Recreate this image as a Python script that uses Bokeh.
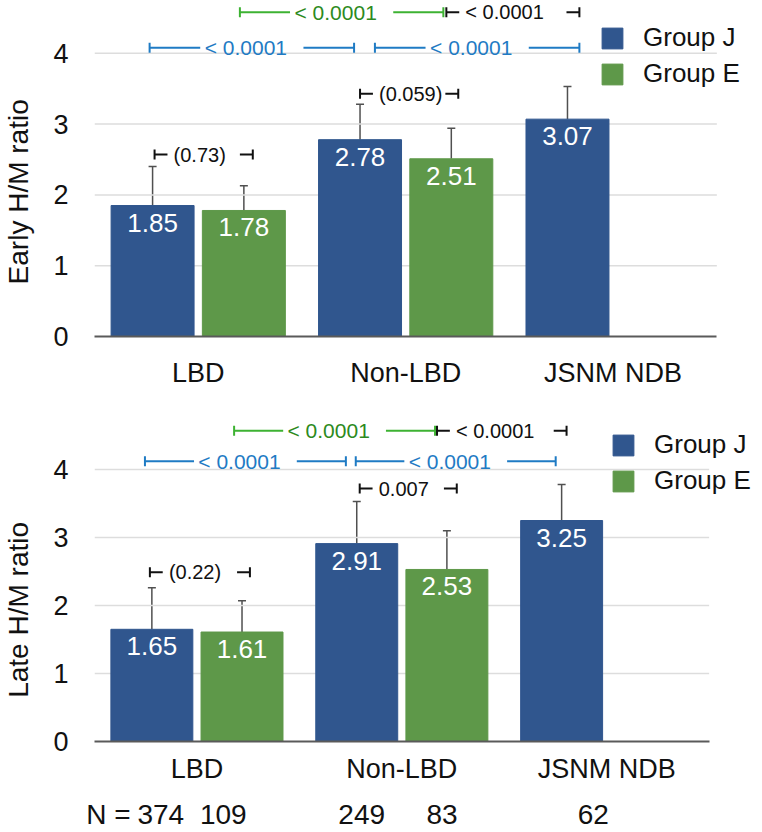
from bokeh.core.properties import value
from bokeh.embed import file_html
from bokeh.layouts import column
from bokeh.models import (ColumnDataSource, FixedTicker, Legend, LegendItem, LinearAxis,
                          Range1d, TeeHead, Whisker)
from bokeh.plotting import figure
from bokeh.resources import INLINE

# ---------------------------------------------------------------- data
categories = ["LBD", "Non-LBD", "JSNM NDB"]
series = ["Group J", "Group E"]
y_ticks = [0, 1, 2, 3, 4]

early_j = [1.85, 2.78, 3.07]
early_j_sd = [0.55, 0.50, 0.46]
early_e = [1.78, 2.51]
early_e_sd = [0.35, 0.43]

late_j = [1.65, 2.91, 3.25]
late_j_sd = [0.61, 0.62, 0.53]
late_e = [1.61, 2.53]
late_e_sd = [0.46, 0.57]

n_j = [374, 249, 62]
n_e = [109, 83]

# pairwise comparisons: (bar a, bar b, p-value text, colour key)
early_tests = [
    (("J", 0), ("J", 1), "< 0.0001", "blue"),
    (("J", 1), ("J", 2), "< 0.0001", "blue"),
    (("E", 0), ("E", 1), "< 0.0001", "green"),
    (("E", 1), ("J", 2), "< 0.0001", "black"),
    (("J", 0), ("E", 0), "(0.73)", "black"),
    (("J", 1), ("E", 1), "(0.059)", "black"),
]
late_tests = [
    (("J", 0), ("J", 1), "< 0.0001", "blue"),
    (("J", 1), ("J", 2), "< 0.0001", "blue"),
    (("E", 0), ("E", 1), "< 0.0001", "green"),
    (("E", 1), ("J", 2), "< 0.0001", "black"),
    (("J", 1), ("E", 1), "0.007", "black"),
    (("J", 0), ("E", 0), "(0.22)", "black"),
]

# ---------------------------------------------------------------- style
FONT = "Liberation Sans"
INK = "#111111"
BAR_BLUE = "#30568E"
BAR_GREEN = "#5E9849"
LINE_COLORS = {"blue": "#1F7BC4", "green": "#3DB232", "black": INK}
TEXT_COLORS = {"blue": "#1F7BC4", "green": "#2C8A20", "black": INK}
TEXT_SIZES = {"blue": "21px", "green": "21px", "black": "20px"}
BAR_SHIFT = 0.22
BAR_WIDTH = 0.40
NBSP = "\u00a0"

# bracket height (data units) and end nudges (px) for each comparison
early_bracket_layout = [(4.08, -3, -6), (4.08, 15, 12), (4.58, -4, -8),
                        (4.58, -5, 12), (2.57, 2, 9), (3.43, 0, 7)]
late_bracket_layout = [(4.12, -7, -11), (4.12, -1, -6), (4.57, -8, -12),
                       (4.57, -10, 5), (3.72, 3, 10), (2.49, -2, 8)]

# frame geometry in px: left edge, right end of the data area, x-axis row, px per y unit
early_geom = dict(height=400, left=89, right=716, axis_y=336, unit_y=70.8,
                  label_standoff=15, legend_xy=(505, 247), title_pad=6)
late_geom = dict(height=432, left=86, right=708, axis_y=341, unit_y=68.0,
                 label_standoff=6, legend_xy=(516, 245), title_pad=10)

WIDTH = 762


def bar_x(i, s):
    return i + 0.5 + (-BAR_SHIFT if s == "J" else BAR_SHIFT)


def build_chart(vals_j, sd_j, vals_e, sd_e, y_title, tests, bracket_layout, g):
    ncat = len(categories)
    px_x = (g["right"] - g["left"]) / ncat
    px_y = g["unit_y"]
    x_end = ncat + (WIDTH - g["right"]) / px_x
    p = figure(width=WIDTH, height=g["height"], output_backend="svg", toolbar_location=None,
               x_range=Range1d(0, x_end), y_range=Range1d(0, g["axis_y"] / px_y),
               min_border_left=g["left"], min_border_right=0,
               min_border_top=0, min_border_bottom=g["height"] - g["axis_y"])
    p.outline_line_color = None
    p.background_fill_color = "white"

    # horizontal grid lines across the category area only
    p.xgrid.grid_line_color = None
    p.ygrid.grid_line_color = None
    gl = [t for t in y_ticks if t > 0]
    p.segment(x0=[0] * len(gl), x1=[ncat] * len(gl), y0=gl, y1=gl,
              line_color="#DDDDDD", line_width=1.5)

    # bars
    xj = [bar_x(i, "J") for i in range(len(vals_j))]
    xe = [bar_x(i, "E") for i in range(len(vals_e))]
    src_j = ColumnDataSource(dict(x=xj, top=vals_j, hi=[v + s for v, s in zip(vals_j, sd_j)],
                                  lbl=[f"{v:.2f}" for v in vals_j]))
    src_e = ColumnDataSource(dict(x=xe, top=vals_e, hi=[v + s for v, s in zip(vals_e, sd_e)],
                                  lbl=[f"{v:.2f}" for v in vals_e]))
    rj = p.vbar(x="x", top="top", width=BAR_WIDTH, source=src_j, fill_color=BAR_BLUE,
                line_color=BAR_BLUE)
    re_ = p.vbar(x="x", top="top", width=BAR_WIDTH, source=src_e, fill_color=BAR_GREEN,
                 line_color=BAR_GREEN)

    # upper SD whiskers
    for src in (src_j, src_e):
        p.add_layout(Whisker(base="x", lower="top", upper="hi", source=src,
                             line_color="#505050", line_width=1.5, lower_head=None,
                             upper_head=TeeHead(size=8, line_color="#505050",
                                                line_width=1.5)))

    # values inside bars
    for src in (src_j, src_e):
        p.text(x="x", y="top", text="lbl", source=src, text_align="center",
               text_baseline="top", y_offset=8, text_color="white",
               text_font=value(FONT), text_font_size="26px")

    # significance brackets
    segs = {k: dict(x0=[], y0=[], x1=[], y1=[]) for k in LINE_COLORS}
    tick = 5 / px_y

    def add_seg(k, a, b, c, d):
        segs[k]["x0"].append(a)
        segs[k]["y0"].append(b)
        segs[k]["x1"].append(c)
        segs[k]["y1"].append(d)

    for (a, b, txt, kind), (lvl, n0, n1) in zip(tests, bracket_layout):
        x0 = bar_x(a[1], a[0]) + n0 / px_x
        x1 = bar_x(b[1], b[0]) + n1 / px_x
        add_seg(kind, x0, lvl - tick, x0, lvl + tick)
        add_seg(kind, x1, lvl - tick, x1, lvl + tick)
        if kind in ("blue", "green"):
            tc = (x0 + x1) / 2 - 6 / px_x
            add_seg(kind, x0, lvl, tc - 46 / px_x, lvl)
            add_seg(kind, tc + 58 / px_x, lvl, x1, lvl)
            p.text(x=[tc], y=[lvl], text=[txt], text_align="center", text_baseline="middle",
                   text_color=TEXT_COLORS[kind], text_font=value(FONT),
                   text_font_size=TEXT_SIZES[kind])
        else:
            add_seg(kind, x0, lvl, x0 + 13 / px_x, lvl)
            add_seg(kind, x1 - 13 / px_x, lvl, x1, lvl)
            p.text(x=[x0], y=[lvl], text=[txt], x_offset=19, text_align="left",
                   text_baseline="middle", text_color=TEXT_COLORS[kind],
                   text_font=value(FONT), text_font_size=TEXT_SIZES[kind])
    for k, d in segs.items():
        if d["x0"]:
            p.segment(x0="x0", y0="y0", x1="x1", y1="y1", source=ColumnDataSource(d),
                      line_color=LINE_COLORS[k], line_width=2)

    # category axis
    centers = [i + 0.5 for i in range(ncat)]
    xa = p.xaxis[0]
    xa.ticker = FixedTicker(ticks=centers)
    xa.major_label_overrides = {c: name for c, name in zip(centers, categories)}
    xa.bounds = (0, ncat)
    xa.major_tick_line_color = None
    xa.minor_tick_line_color = None
    xa.axis_line_color = "#5A5A5A"
    xa.axis_line_width = 2
    xa.major_label_standoff = g["label_standoff"]
    xa.major_label_text_font = FONT
    xa.major_label_text_font_size = "27px"
    xa.major_label_text_color = INK

    ya = p.yaxis[0]
    ya.ticker = FixedTicker(ticks=y_ticks)
    ya.axis_line_color = None
    ya.major_tick_line_color = None
    ya.minor_tick_line_color = None
    ya.major_label_standoff = 20
    ya.major_label_text_font = FONT
    ya.major_label_text_font_size = "27px"
    ya.major_label_text_color = INK
    # title sits centred on the 0-4 span; padding shifts it off the frame centre
    ya.axis_label = y_title + NBSP * g["title_pad"]
    ya.axis_label_standoff = 16
    ya.axis_label_text_font = FONT
    ya.axis_label_text_font_size = "28px"
    ya.axis_label_text_font_style = "normal"
    ya.axis_label_text_color = INK

    legend = Legend(items=[LegendItem(label=series[0], renderers=[rj]),
                           LegendItem(label=series[1], renderers=[re_])],
                    location=g["legend_xy"], glyph_width=26, glyph_height=26,
                    label_standoff=18, spacing=5, padding=0, margin=0,
                    border_line_color=None, background_fill_alpha=0,
                    label_text_font=FONT, label_text_font_size="26px",
                    label_text_color=INK)
    p.add_layout(legend)
    return p, px_x


top, _ = build_chart(early_j, early_j_sd, early_e, early_e_sd, "Early H/M ratio",
                     early_tests, early_bracket_layout, early_geom)
bottom, bpx = build_chart(late_j, late_j_sd, late_e, late_e_sd, "Late H/M ratio",
                          late_tests, late_bracket_layout, late_geom)

# sample sizes: an extra tick row under the lower chart
n_pos = [bar_x(0, "J"), bar_x(0, "E"), bar_x(1, "J"), bar_x(1, "E"), bar_x(2, "J")]
n_txt = [str(n_j[0]), str(n_e[0]), str(n_j[1]), str(n_e[1]), str(n_j[2])]
n_nudge = [9, -19, 5, -5, 32]
n_ticks = [round(x + d / bpx, 4) for x, d in zip(n_pos, n_nudge)]
n_head = round(n_pos[0] - 44 / bpx, 4)
n_axis = LinearAxis(ticker=FixedTicker(ticks=[n_head] + n_ticks),
                    major_label_overrides={t: s for t, s in
                                           zip([n_head] + n_ticks, ["N ="] + n_txt)},
                    axis_line_color=None, major_tick_line_color=None,
                    minor_tick_line_color=None, major_label_standoff=6,
                    major_label_text_font=FONT, major_label_text_font_size="28px",
                    major_label_text_color=INK)
bottom.add_layout(n_axis, "below")

layout = column(top, bottom, spacing=0)
open("out.html", "w").write(file_html(layout, INLINE))
